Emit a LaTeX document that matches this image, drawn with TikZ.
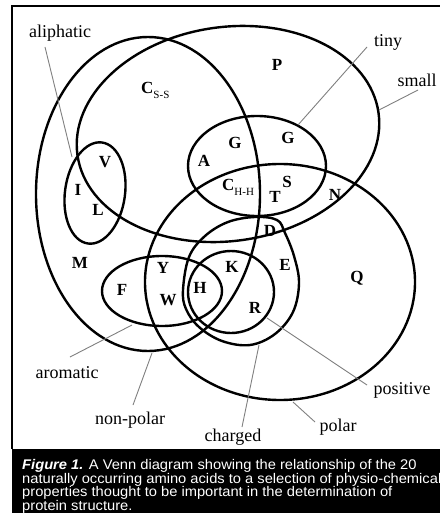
\documentclass[tikz,border=0pt]{standalone}
\usepackage{fontspec}
\setmainfont{Liberation Serif}
\newfontfamily\capfont[FakeStretch=1.05]{Liberation Sans}
\begin{document}
\begin{tikzpicture}[x=1pt,y=-1pt,
  ring/.style={draw=black, line width=2.4pt},
  lead/.style={draw=black!50, line width=0.9pt},
  aa/.style={font=\fontsize{17}{17}\selectfont\bfseries, inner sep=0pt},
  lbl/.style={font=\fontsize{18}{18}\selectfont, inner sep=0pt},
  capt/.style={text=white, font=\capfont\fontsize{14}{13.5}\selectfont, align=left, inner sep=0pt}]
\useasboundingbox (0,0) rectangle (440,513);
\fill[white] (0,0) rectangle (440,513);
% frame and caption band
\draw[line width=1.3pt] (12,449) -- (12,6) -- (440,6);
\fill[black] (12,449) rectangle (440,513);
% sets
\draw[ring] (148,194) ellipse [x radius=112, y radius=157];                       % non-polar
\draw[ring, rotate around={8:(228,134)}] (228,134) ellipse [x radius=152, y radius=107]; % small
\draw[ring] (257,166) ellipse [x radius=69, y radius=50];                          % tiny
\draw[ring, rotate around={-8:(95,193)}] (95,193) ellipse [x radius=30, y radius=51]; % aliphatic
\draw[ring] (162,291) ellipse [x radius=60, y radius=35];                          % aromatic
\draw[ring] (280,282) ellipse [x radius=135, y radius=118];                        % polar
\draw[ring] plot[smooth cycle, tension=0.6] coordinates {(183,290) (189,257) (205,236) (228,222) (255,217) (277,220) (285,233) (294,256) (299,283) (293,312) (275,334) (250,345) (222,341) (199,327) (186,309)}; % charged
\draw[ring] (231,292) ellipse [x radius=43, y radius=41];                          % positive
% amino acid letters
\node[aa] (V) at (105,162) {V};
\node[aa] (I) at (78,190) {I};
\node[aa] (L) at (98,210) {L};
\node[aa] (M) at (80,263) {M};
\node[aa] (F) at (122,290) {F};
\node[aa] (Y) at (163,268) {Y};
\node[aa] (W) at (168,300) {W};
\node[aa] (H) at (200,288) {H};
\node[aa] (K) at (232,267) {K};
\node[aa] (R) at (255,308) {R};
\node[aa] (E) at (285,265) {E};
\node[aa] (D) at (270,231) {D};
\node[aa] (Q) at (357,278) {Q};
\node[aa] (N) at (335,195) {N};
\node[aa] (A) at (204,161) {A};
\node[aa] (G1) at (235,143) {G};
\node[aa] (G2) at (288,138) {G};
\node[aa] (S) at (287,182) {S};
\node[aa] (T) at (275,197) {T};
\node[aa] (P) at (277,65) {P};
\node[aa, anchor=west] (Css) at (141,90) {C\raisebox{-5pt}{\mdseries\fontsize{11}{11}\selectfont S-S}};
\node[aa, anchor=west] (Chh) at (222,187) {C\raisebox{-5pt}{\mdseries\fontsize{11}{11}\selectfont H-H}};
% set labels
\node[lbl] (aliphatic) at (60,33) {aliphatic};
\node[lbl] (tiny) at (388,42) {tiny};
\node[lbl] (small) at (417,80) {small};
\node[lbl] (aromatic) at (67,373) {aromatic};
\node[lbl] (nonpolar) at (130,420) {non-polar};
\node[lbl] (charged) at (233,437) {charged};
\node[lbl] (polar) at (338,427) {polar};
\node[lbl] (positive) at (402,390) {positive};
% leader line ends
\coordinate (aliA) at (45,47);   \coordinate (aliB) at (72,157);
\coordinate (tinA) at (367,47);  \coordinate (tinB) at (298,125);
\coordinate (smaA) at (418,90);  \coordinate (smaB) at (379,110);
\coordinate (aroA) at (70,357);  \coordinate (aroB) at (132,325);
\coordinate (nonA) at (133,405); \coordinate (nonB) at (152,353);
\coordinate (chaA) at (242,427); \coordinate (chaB) at (259,345);
\coordinate (posA) at (367,385); \coordinate (posB) at (267,318);
\coordinate (polA) at (315,422); \coordinate (polB) at (293,402);
\draw[lead] (aliA) -- (aliB);
\draw[lead] (tinA) -- (tinB);
\draw[lead] (smaA) -- (smaB);
\draw[lead] (aroA) -- (aroB);
\draw[lead] (nonA) -- (nonB);
\draw[lead] (chaA) -- (chaB);
\draw[lead] (posA) -- (posB);
\draw[lead] (polA) -- (polB);
% caption
\node[capt, anchor=north west] (caption) at (22,459.5) {\textbf{\textit{Figure 1.}} A Venn diagram showing the relationship of the 20\\naturally occurring amino acids to a selection of physio-chemical\\properties thought to be important in the determination of\\protein structure.};
\end{tikzpicture}
\end{document}
